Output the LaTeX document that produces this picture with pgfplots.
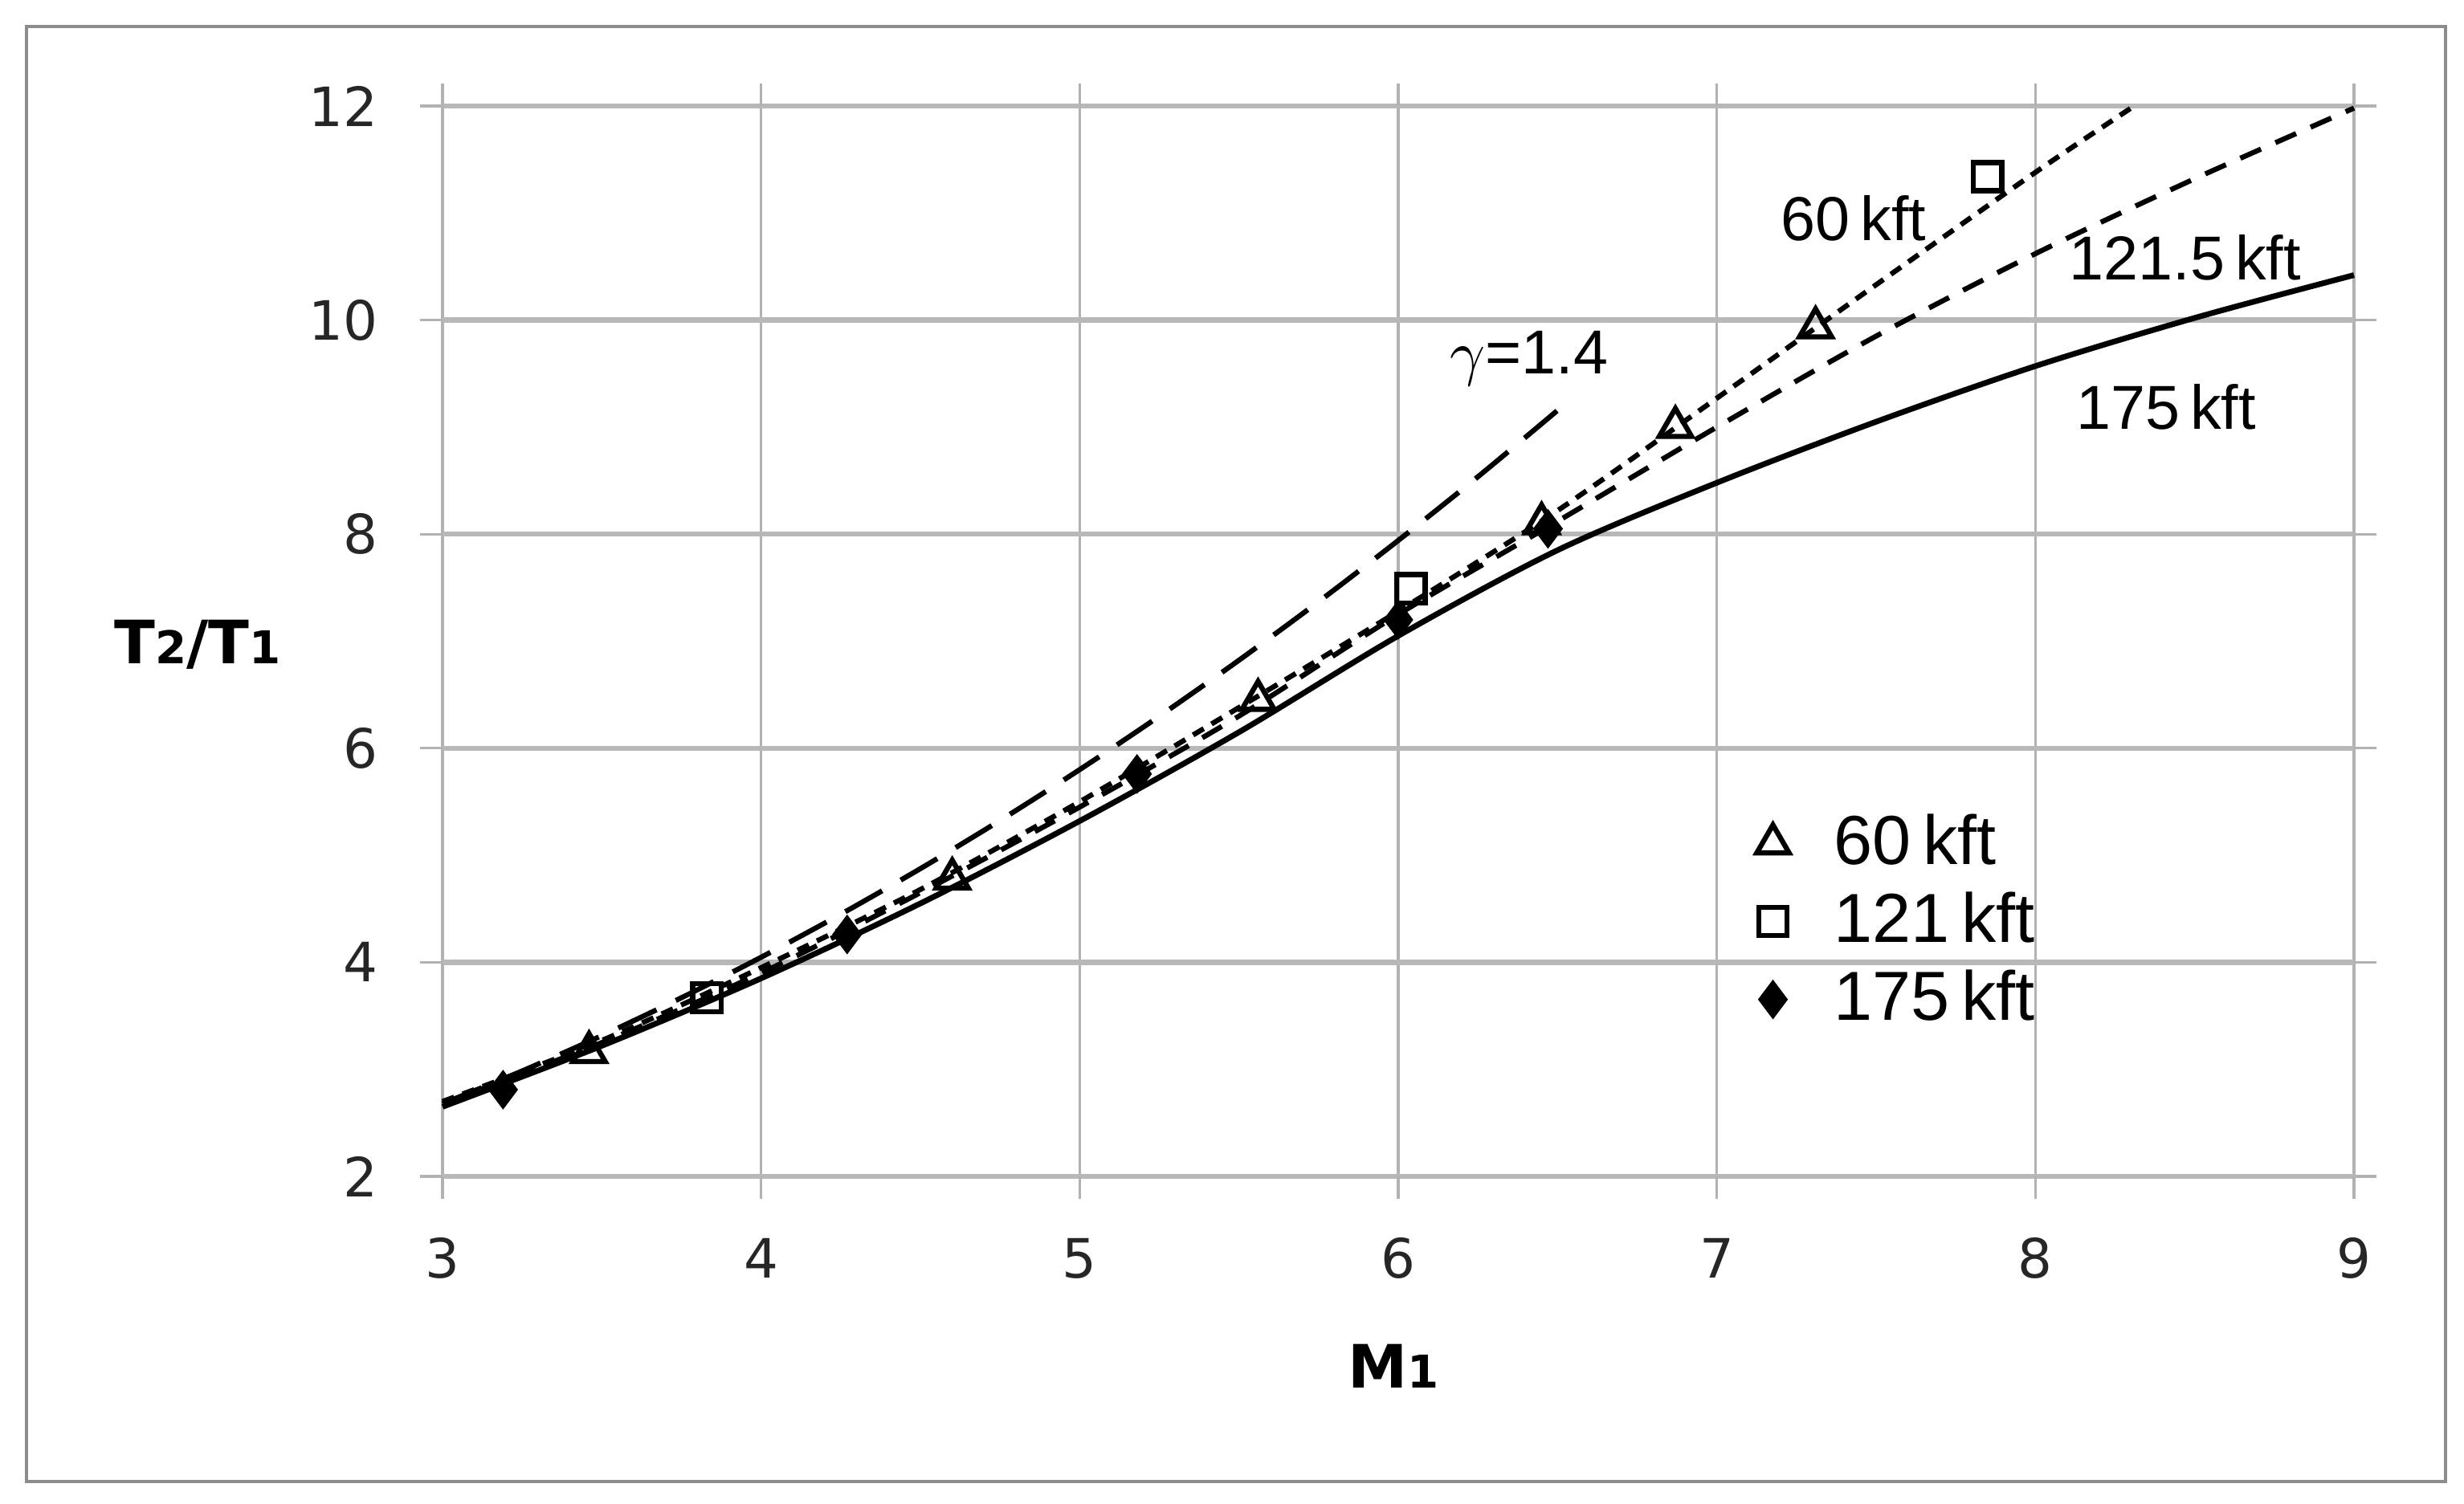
\documentclass[border=0pt]{standalone}
\usepackage{pgfplots}
\pgfplotsset{compat=1.18}
\usepackage{fontspec}
\setmainfont{Liberation Sans}
\newfontfamily\dejavu{DejaVu Sans}

\begin{document}
\begin{tikzpicture}
\useasboundingbox (-2.755,-2.035) rectangle (12.585,7.325);
\draw[black!45, line width=0.6pt] (-2.59,-1.9) rectangle (12.47,7.16);
\begin{axis}[
  at={(0,0)}, anchor=south west,
  scale only axis, width=11.9cm, height=6.665cm,
  xmin=3, xmax=9, ymin=2, ymax=12,
  xtick={3,4,...,9}, ytick={2,4,...,12},
  xmajorgrids, ymajorgrids,
  major x grid style={black!30, line width=0.45pt},
  major y grid style={black!28, line width=0.9pt},
  axis line style={draw=none},
  tick align=outside, major tick length=0.14cm,
  tick style={black!30, line width=0.45pt},
  /pgf/number format/assume math mode=true,
  tick label style={font=\dejavu\fontsize{9.6}{11}\selectfont, text=black!85},
  yticklabel style={xshift=-0.14cm},
  xticklabel style={yshift=-0.12cm},
  every axis x label/.style={at={(rel axis cs:0.4975,-0.177)}, anchor=center},
  every axis y label/.style={at={(rel axis cs:-0.128,0.497)}, anchor=center},
  label style={font=\dejavu\bfseries\fontsize{10.6}{12}\selectfont},
  xlabel={M{\fontsize{8}{10}\selectfont 1}},
  ylabel={T{\fontsize{8}{10}\selectfont 2}/T{\fontsize{8}{10}\selectfont 1}},
  clip=false,
  legend cell align=left,
  legend style={draw=none, fill=none, inner sep=0pt,
    font=\fontsize{12.3}{14}\selectfont,
    at={(rel axis cs:0.687,0.35)}, anchor=north west,
    row sep=-0.6pt, column sep=0.21cm},
]
% gamma = 1.4 ideal gas
\addplot[forget plot, black, line width=0.9pt, dash pattern=on 7.5pt off 3.8pt, smooth] coordinates {
  (3,2.679) (3.25,2.985) (3.5,3.315) (3.75,3.669) (4,4.047) (4.25,4.449)
  (4.5,4.875) (4.75,5.325) (5,5.8) (5.25,6.299) (5.5,6.822) (5.75,7.369)
  (6,7.941) (6.25,8.536) (6.5,9.156)};
% 60 kft
\addplot[forget plot, black, line width=0.9pt, dash pattern=on 2.2pt off 1.6pt, smooth] coordinates {
  (3,2.7) (3.5,3.27) (4,3.95) (4.5,4.68) (5,5.5) (5.5,6.38) (6,7.28)
  (6.5,8.22) (7,9.27) (7.5,10.33) (8,11.38) (8.31,12.0)};
% 121.5 kft
\addplot[forget plot, black, line width=0.9pt, dash pattern=on 4pt off 2.8pt, smooth] coordinates {
  (3,2.68) (3.5,3.25) (4,3.9) (4.5,4.65) (5,5.45) (5.5,6.3) (6,7.25)
  (6.5,8.12) (7,9.0) (7.5,9.85) (8,10.62) (8.5,11.32) (9,11.98)};
% 175 kft
\addplot[forget plot, black, line width=1pt, smooth] coordinates {
  (3,2.65) (3.5,3.22) (4,3.85) (4.5,4.55) (5,5.32) (5.5,6.15) (6,7.05)
  (6.5,7.85) (7,8.48) (7.5,9.05) (8,9.57) (8.5,10.02) (9,10.42)};

\addplot[only marks, mark=triangle, mark size=3.3pt, black, line width=0.9pt, mark options={fill=white}] coordinates {
  (3.46,3.16) (4.6,4.78) (5.56,6.45) (6.45,8.1) (6.87,9.0) (7.31,9.93)};
\addlegendentry{60\,kft}
\addplot[only marks, mark=square, mark size=2.5pt, black, line width=0.9pt, mark options={fill=white}] coordinates {
  (3.83,3.67) (6.04,7.49) (7.85,11.34)};
\addlegendentry{121\,kft}
\addplot[only marks, mark=diamond*, mark size=3.2pt, black] coordinates {
  (3.19,2.81) (4.27,4.26) (5.18,5.76) (6.0,7.2) (6.47,8.05)};
\addlegendentry{175\,kft}

\node[font=\fontsize{11}{12}\selectfont] at (axis cs:7.43,10.95) {60\,kft};
\node[font=\fontsize{11}{12}\selectfont] at (axis cs:8.47,10.58) {121.5\,kft};
\node[font=\fontsize{11}{12}\selectfont] at (axis cs:8.41,9.19) {175\,kft};
\node[font=\fontsize{11}{12}\selectfont] at (axis cs:6.41,9.64) {$\gamma$=1.4};
\end{axis}
\end{tikzpicture}
\end{document}
